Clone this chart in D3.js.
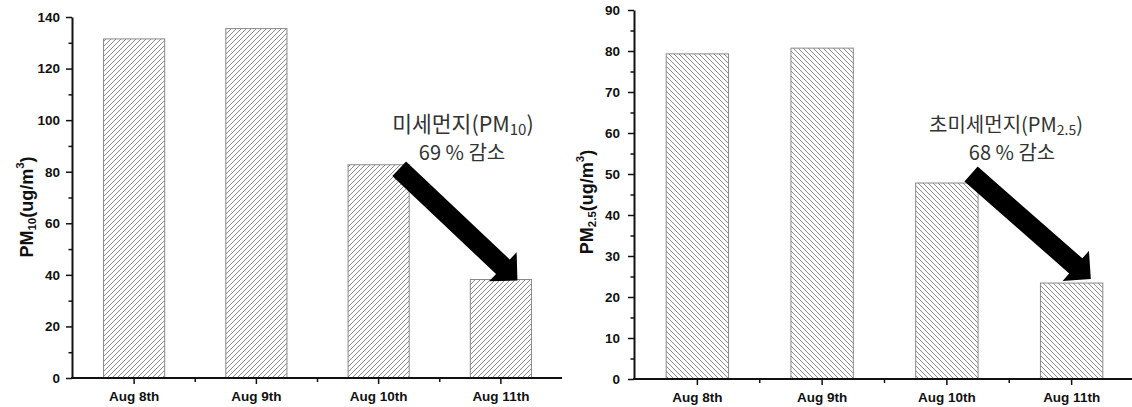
<!DOCTYPE html>
<html>
<head>
<meta charset="utf-8">
<script src="https://cdn.jsdelivr.net/npm/d3@7"></script>
<style>
  html, body { margin: 0; padding: 0; background: #fff; }
  svg { display: block; }
  .axis text { font-family: "Liberation Sans", Arial, sans-serif; font-weight: bold; font-size: 13.5px; fill: #111; }
  .axis path, .axis line { stroke: #111; }
  .ytitle { font-family: "Liberation Sans", Arial, sans-serif; font-weight: bold; font-size: 18px; fill: #111; }
  .note { font-family: "Noto Sans CJK KR", sans-serif; fill: #333; }
</style>
</head>
<body>
<svg id="chart" width="1132" height="407"></svg>
<script>
// Daily particulate concentrations, 8–11 August
const days = ["Aug 8th", "Aug 9th", "Aug 10th", "Aug 11th"];
const pm10 = [131.5, 135.5, 82.7, 38.2];
const pm25 = [79.3, 80.7, 47.8, 23.4];
const pm10Ticks = [0, 20, 40, 60, 80, 100, 120, 140];
const pm25Ticks = [0, 10, 20, 30, 40, 50, 60, 70, 80, 90];

const svg = d3.select("#chart");
const defs = svg.append("defs");

// Hatch fills: "/" for PM10, "\" for PM2.5
defs.append("pattern").attr("id", "hatchUp")
  .attr("patternUnits", "userSpaceOnUse").attr("width", 5).attr("height", 5)
  .append("path").attr("d", "M-1,1 l2,-2 M0,5 l5,-5 M4,6 l2,-2")
  .attr("stroke", "#8c8c8c").attr("stroke-width", 1);
defs.append("pattern").attr("id", "hatchDown")
  .attr("patternUnits", "userSpaceOnUse").attr("width", 5).attr("height", 5)
  .append("path").attr("d", "M-1,4 l2,2 M0,0 l5,5 M4,-1 l2,2")
  .attr("stroke", "#8c8c8c").attr("stroke-width", 1);

function panel(opts) {
  const { values, ticks, xRange, yRange, fill, title, sub, note1, noteSub, note2, notePos, noteSize, arrow } = opts;
  const g = svg.append("g");
  const x = d3.scaleBand().domain(days).range(xRange).paddingInner(0.5).paddingOuter(0.25);
  const y = d3.scaleLinear().domain([0, d3.max(ticks)]).range(yRange);

  // bars
  g.selectAll("rect.bar").data(values).join("rect")
    .attr("class", "bar")
    .attr("x", (d, i) => x(days[i]))
    .attr("width", x.bandwidth())
    .attr("y", d => y(d))
    .attr("height", d => y(0) - y(d))
    .attr("fill", `url(#${fill})`)
    .attr("stroke", "#888").attr("stroke-width", 1);

  // y axis with minor ticks
  const minor = d3.range(1, ticks.length).map(i => (ticks[i - 1] + ticks[i]) / 2);
  g.append("g").attr("class", "axis").attr("transform", `translate(${xRange[0] - 1},0)`)
    .call(d3.axisLeft(y).tickValues(minor).tickSize(3.5).tickFormat(""))
    .call(a => a.select(".domain").remove())
    .selectAll("line").attr("stroke-width", 1.5);
  const ya = g.append("g").attr("class", "axis").attr("transform", `translate(${xRange[0] - 1},0)`)
    .call(d3.axisLeft(y).tickValues(ticks).tickSize(6).tickSizeOuter(0).tickPadding(opts.yPad));
  ya.select(".domain").attr("stroke-width", 2);
  ya.selectAll("line").attr("stroke-width", 1.5);

  // x axis: category ticks plus minor ticks at band edges
  const edges = days.slice(1).map(d => x(d) - x.step() * x.paddingInner() / 2);
  const xa = g.append("g").attr("class", "axis").attr("transform", `translate(0,${y(0)})`);
  xa.selectAll("line.minor").data(edges).join("line").attr("class", "minor")
    .attr("x1", d => d).attr("x2", d => d).attr("y1", 0).attr("y2", 4).attr("stroke-width", 1.5);
  xa.call(d3.axisBottom(x).tickSize(6).tickSizeOuter(0));
  xa.select(".domain").attr("d", `M${xRange[0] - 2},0H${xRange[1]}`).attr("stroke-width", 2);
  xa.selectAll(".tick line").attr("stroke-width", 1.5);
  xa.selectAll(".tick text").attr("y", 23).attr("dy", 0);

  // y axis title
  const t = g.append("text").attr("class", "ytitle")
    .attr("transform", `translate(${title.x},${title.y}) rotate(-90)`)
    .attr("text-anchor", "middle");
  t.append("tspan").text("PM");
  t.append("tspan").attr("font-size", "11.5px").attr("baseline-shift", "-3").text(sub);
  t.append("tspan").text("(ug/m");
  t.append("tspan").attr("font-size", "11.5px").attr("baseline-shift", "9").text("3");
  t.append("tspan").text(")");

  // reduction note
  const n1 = g.append("text").attr("class", "note").attr("text-anchor", "middle")
    .attr("font-size", noteSize + "px").attr("x", notePos.x).attr("y", notePos.y);
  n1.append("tspan").text(note1 + "(PM");
  n1.append("tspan").attr("font-size", (noteSize * 0.7) + "px").attr("baseline-shift", "-3").text(noteSub);
  n1.append("tspan").text(")");
  g.append("text").attr("class", "note").attr("text-anchor", "middle")
    .attr("font-size", "20px").attr("x", notePos.x2).attr("y", notePos.y + 28).text(note2);

  // arrow from the third bar down to the fourth
  const x0 = x(days[2]) + x.bandwidth() + arrow.tailDx, y0 = y(values[2]) + arrow.tailDy;
  const x1 = x(days[3]) + x.bandwidth() + arrow.tipDx, y1 = y(values[3]) + arrow.tipDy;
  const len = Math.hypot(x1 - x0, y1 - y0);
  const ux = (x1 - x0) / len, uy = (y1 - y0) / len, px = -uy, py = ux;
  const sw = 10, hw = 20, hl = 20;
  const bx = x1 - ux * hl, by = y1 - uy * hl;
  const pts = [
    [x0 + px * sw, y0 + py * sw], [bx + px * sw, by + py * sw], [bx + px * hw, by + py * hw],
    [x1, y1],
    [bx - px * hw, by - py * hw], [bx - px * sw, by - py * sw], [x0 - px * sw, y0 - py * sw]
  ];
  g.append("path").attr("d", d3.line()(pts) + "Z").attr("fill", "#000");
}

panel({
  values: pm10, ticks: pm10Ticks, xRange: [73, 562], yRange: [378, 17], fill: "hatchUp",
  title: { x: 33, y: 207 }, sub: "10", yPad: 6,
  note1: "미세먼지", noteSub: "10", note2: "69 % 감소", noteSize: 21.5,
  notePos: { x: 463, x2: 462, y: 132 },
  arrow: { tailDx: -10, tailDy: 4, tipDx: -14, tipDy: 1 }
});

panel({
  values: pm25, ticks: pm25Ticks, xRange: [635, 1134], yRange: [379, 10], fill: "hatchDown",
  title: { x: 593, y: 202 }, sub: "2.5", yPad: 8,
  note1: "초미세먼지", noteSub: "2.5", note2: "68 % 감소", noteSize: 20,
  notePos: { x: 1006, x2: 1012, y: 132 },
  arrow: { tailDx: -7, tailDy: -9, tipDx: -12, tipDy: -4 }
});
</script>
</body>
</html>
